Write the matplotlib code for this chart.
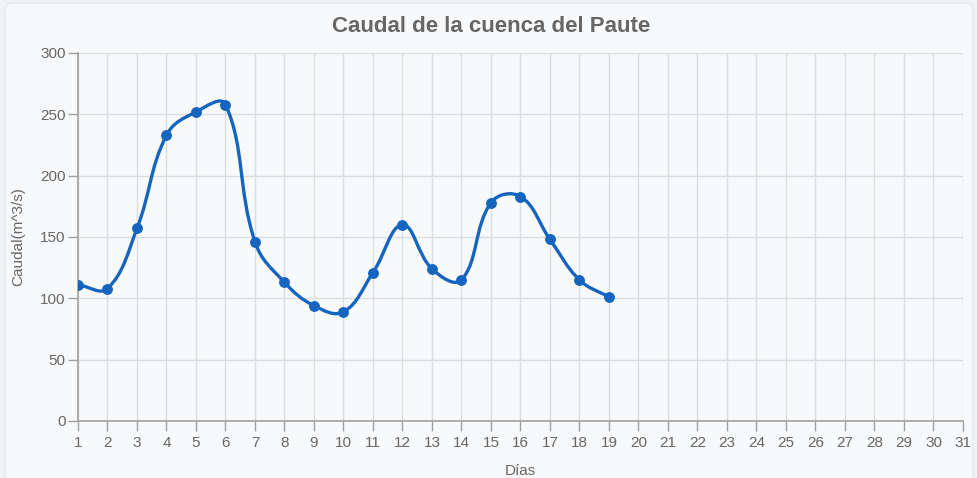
import matplotlib
matplotlib.use("Agg")
import matplotlib.pyplot as plt
from matplotlib.path import Path
from matplotlib.patches import PathPatch, FancyBboxPatch
import numpy as np

plt.rcParams['font.family'] = ['Liberation Sans', 'DejaVu Sans']

days = [1, 2, 3, 4, 5, 6, 7, 8, 9, 10, 11, 12, 13, 14, 15, 16, 17, 18, 19]
caudal = [111, 108, 157, 233, 252, 258, 146, 113, 94, 89, 121, 160, 124, 115, 178, 183, 148, 115, 101]
x_ticks = list(range(1, 32))
y_ticks = [0, 50, 100, 150, 200, 250, 300]

title = "Caudal de la cuenca del Paute"
xlabel = "Días"
ylabel = "Caudal(m^3/s)"

W, H = 978, 478
fig = plt.figure(figsize=(W / 100, H / 100), dpi=100)
fig.patch.set_facecolor("#f1f2f4")
card = FancyBboxPatch((5, -30), 968, H - 3 + 30,
                      boxstyle="round,pad=0,rounding_size=8",
                      transform=None, facecolor="#f8f9fb",
                      edgecolor="#e6e8eb", linewidth=1, zorder=-5)
fig.patches.append(card)

L, R, T, B = 78, 963, 53, 421
ax = fig.add_axes([L / W, 1 - B / H, (R - L) / W, (B - T) / H])
ax.set_zorder(2)
ax.set_facecolor("none")
ax.set_xlim(1, 31)
ax.set_ylim(0, 300)

# Chart.js-style spline (tension 0.4) computed in pixel space
sx = (R - L) / 30.0
sy = (B - T) / 300.0
px = np.array([(d - 1) * sx for d in days])
py = np.array([v * sy for v in caudal])
n = len(px)
tension = 0.4
cp_prev = np.zeros((n, 2))
cp_next = np.zeros((n, 2))
for i in range(n):
    p0 = np.array([px[max(i - 1, 0)], py[max(i - 1, 0)]])
    p1 = np.array([px[i], py[i]])
    p2 = np.array([px[min(i + 1, n - 1)], py[min(i + 1, n - 1)]])
    d01 = np.hypot(*(p1 - p0))
    d12 = np.hypot(*(p2 - p1))
    s01 = d01 / (d01 + d12) if (d01 + d12) else 0
    s12 = d12 / (d01 + d12) if (d01 + d12) else 0
    fa = tension * s01
    fb = tension * s12
    cp_prev[i] = p1 - fa * (p2 - p0)
    cp_next[i] = p1 + fb * (p2 - p0)

def to_data(p):
    return (p[0] / sx + 1, p[1] / sy)

verts = [to_data((px[0], py[0]))]
codes = [Path.MOVETO]
for i in range(n - 1):
    verts += [to_data(cp_next[i]), to_data(cp_prev[i + 1]), to_data((px[i + 1], py[i + 1]))]
    codes += [Path.CURVE4] * 3
path = Path(verts, codes)
ax.add_patch(PathPatch(path, facecolor="none", edgecolor="#1565c0", linewidth=2.4,
                       capstyle="round", joinstyle="round", zorder=3))
ax.plot(days, caudal, linestyle="none", marker="o", markersize=6.8,
        color="#1565c0", zorder=4)

ax.set_xticks(x_ticks)
ax.set_yticks(y_ticks)
ax.set_xticklabels([str(t) for t in x_ticks])
ax.set_yticklabels([str(t) for t in y_ticks])
ax.grid(True, color="#dcdde0", linewidth=1)
ax.set_axisbelow(True)
for s in ["top", "right"]:
    ax.spines[s].set_visible(False)
for s in ["left", "bottom"]:
    ax.spines[s].set_color("#a0a0a0")
    ax.spines[s].set_linewidth(1.2)
ax.tick_params(axis="both", colors="#a0a0a0", labelcolor="#666666",
               labelsize=11, length=7, width=1)
ax.tick_params(axis="x", pad=4)
ax.tick_params(axis="y", pad=2)

fig.text(491 / W, 1 - 27 / H, title, ha="center", va="center",
         fontsize=16, fontweight="bold", color="#666666")
fig.text((L + R) / 2 / W, 1 - 471 / H, xlabel, ha="center", va="center",
         fontsize=11, color="#666666")
fig.text(18 / W, 1 - 237 / H, ylabel, ha="center", va="center",
         rotation=90, fontsize=11, color="#666666")

fig.savefig("out.png", dpi=100, facecolor=fig.get_facecolor())
